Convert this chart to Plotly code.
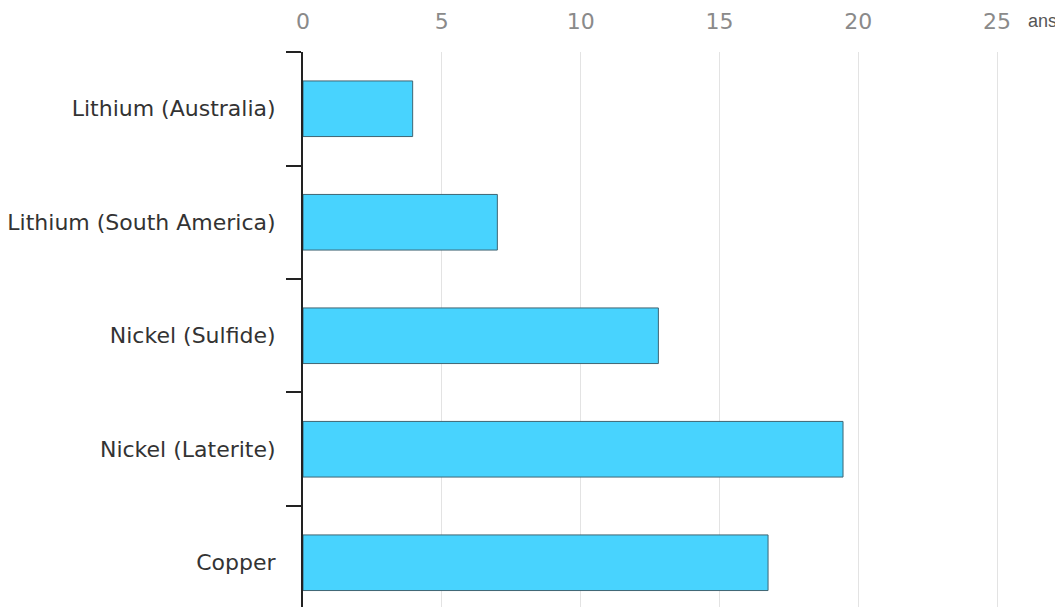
import plotly.graph_objects as go

categories = ["Lithium (Australia)", "Lithium (South America)", "Nickel (Sulfide)", "Nickel (Laterite)", "Copper"]
values = [3.95, 7.0, 12.8, 19.45, 16.75]
x_ticks = [0, 5, 10, 15, 20, 25]
axis_unit = "ans"

fig = go.Figure(go.Bar(
    y=categories, x=values, orientation="h",
    marker=dict(color="#48D3FE", line=dict(color="#3f6573", width=1)),
    width=0.49,
))

# page has an 8px body margin, so the figure is sized/offset to compensate
fig.update_layout(
    width=1055, height=599,
    margin=dict(l=295, r=52, t=44, b=0, autoexpand=False),
    paper_bgcolor="white", plot_bgcolor="white",
    font=dict(family="DejaVu Sans", size=22, color="#333333"),
    showlegend=False,
)
fig.update_xaxes(
    side="top", range=[0, 25.5], tickvals=x_ticks, automargin=False,
    showgrid=True, gridcolor="#e3e3e3", gridwidth=1,
    zeroline=False, showline=False, ticks="",
    tickfont=dict(size=22, color="#8a8a8a", family="DejaVu Sans"), ticklabelstandoff=18,
)
fig.update_yaxes(
    categoryorder="array", categoryarray=categories, automargin=False,
    range=[4.39, -0.5], tickson="boundaries",
    ticks="outside", ticklen=15, tickcolor="#222222", tickwidth=2,
    showline=True, linecolor="#222222", linewidth=2,
    showgrid=False, zeroline=False,
    tickfont=dict(size=22, color="#333333"), ticklabelstandoff=21,
)
fig.add_annotation(
    text=axis_unit, xref="paper", yref="paper", x=1.0, y=1.0,
    xshift=15, yshift=31, xanchor="left", yanchor="middle", showarrow=False,
    font=dict(size=18, color="#555555", family="Arial"),
)

fig.write_html("out.html")
